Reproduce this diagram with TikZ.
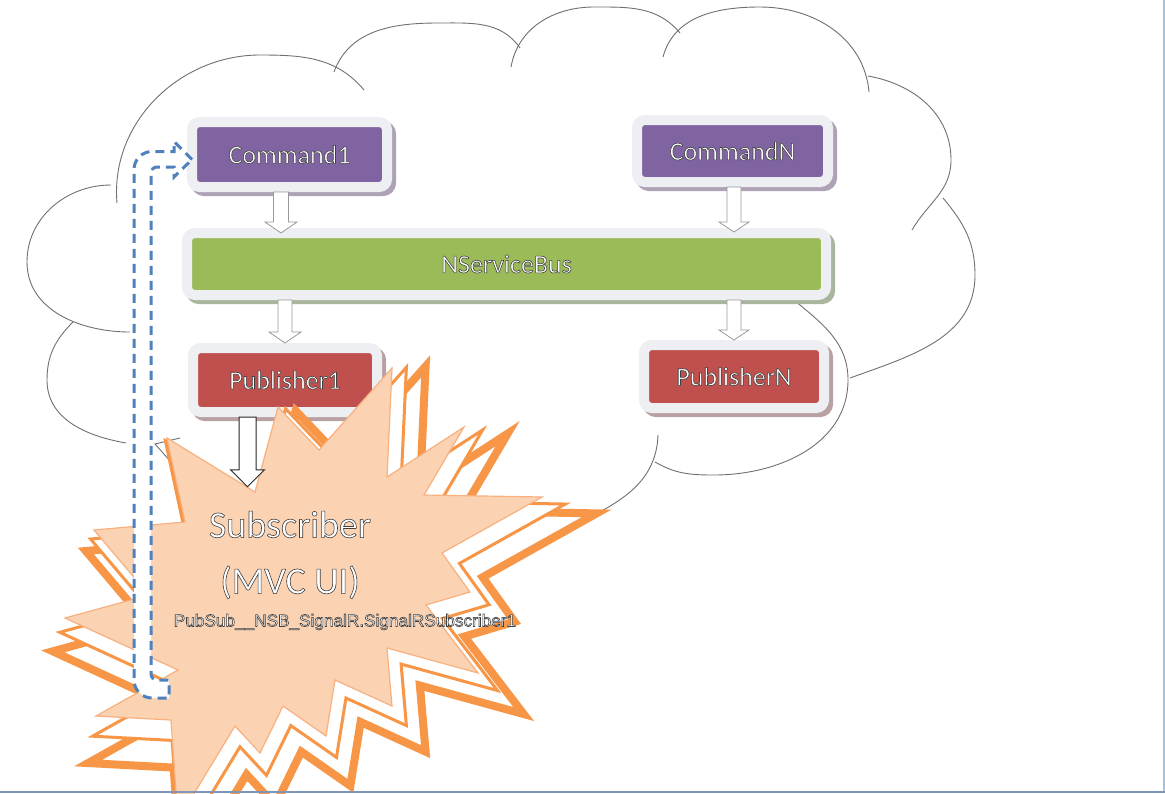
\documentclass[tikz,border=0pt]{standalone}
\usepackage{fontspec}
\setmainfont{Carlito}
\newfontfamily\labelfont{Liberation Sans}
\usetikzlibrary{calc,shadows}

\definecolor{cmdpurple}{HTML}{8064A2}
\definecolor{busgreen}{HTML}{9BBB59}
\definecolor{pubred}{HTML}{C0504D}
\definecolor{framegray}{HTML}{EDEFF3}
\definecolor{cmdshade}{HTML}{ADA2B6}
\definecolor{busshade}{HTML}{A9B59C}
\definecolor{pubshade}{HTML}{B9A0A2}
\definecolor{burstorange}{HTML}{F79646}
\definecolor{burstpeach}{HTML}{FBD3B3}
\definecolor{burstedge}{HTML}{F8B07E}
\definecolor{loopblue}{HTML}{4F81BD}
\definecolor{cloudline}{HTML}{707070}

% white letters with a thin dark rim
\newcommand{\outl}[1]{\special{pdf:literal direct 0.25 G 0.3 w 2 Tr}#1\special{pdf:literal direct 0 Tr}}

% explosion outline of the subscriber
\newcommand{\burstpath}{(167,-438) -- (255,-492) -- (278,-407) -- (319,-450) -- (392,-368) -- (387,-477) -- (464,-427) -- (424,-495) -- (542,-497) -- (442,-553) -- (470,-592) -- (426,-605) -- (478,-673) -- (387,-648) -- (392,-706) -- (335,-680) -- (326,-736) -- (283,-706) -- (260,-753) -- (235,-726) -- (178,-820) -- (171,-720) -- (96,-716) -- (178,-670) -- (65,-618) -- (149,-595) -- (94,-530) -- (185,-522) -- cycle}

\tikzset{
  box/.style 2 args={rectangle, rounded corners=4pt, fill=#1, draw=framegray, line width=5pt,
    inner sep=0pt, text=white, font=\fontsize{13}{15}\selectfont,
    drop shadow={shadow xshift=2pt, shadow yshift=-2pt, fill=#2, draw=#2, line width=5pt, opacity=1}},
  hollow/.style n args={3}{to path={let \p1=(\tikztostart), \p2=(\tikztotarget) in
    (\x1-#1,\y1) -- (\x1-#1,\y2+#3) -- (\x1-#2,\y2+#3) -- (\x1,\y2)
    -- (\x1+#2,\y2+#3) -- (\x1+#1,\y2+#3) -- (\x1+#1,\y1) -- cycle}},
  linkarrow/.style={draw=black!40, fill=white, line width=0.4pt},
  cloudlobe/.style={draw=cloudline, line width=0.45pt},
  burstback/.style={draw=burstorange, fill=white, line width=#1, line join=miter},
  returnarrow/.style={draw=loopblue, fill=white, line width=1.5pt, dash pattern=on 4.5pt off 3pt},
  subtext/.style={text=white, align=center, inner sep=0pt, font=\fontsize{19}{28}\selectfont},
  classtext/.style={text=white, inner sep=0pt, font=\labelfont\fontsize{8.6}{10}\selectfont},
}

\begin{document}
\begin{tikzpicture}[x=0.5pt, y=0.5pt]
  \clip (0,0) rectangle (1165,-793);
  \fill[white] (0,0) rectangle (1165,-793);

  % Cloud
  \draw[cloudlobe] (73,-322) to[out=225,in=90] (47,-380) to[out=-90,in=170] (126,-443);
  \draw[cloudlobe] (111,-185) to[out=180,in=90] (27,-262) to[out=-90,in=180] (130,-332);
  \draw[cloudlobe] (117,-203) to[out=95,in=180] (260,-55) to[out=0,in=130] (364,-90);
  \draw[cloudlobe] (334,-72) to[out=70,in=180] (438,-23) to[out=0,in=125] (520,-48);
  \draw[cloudlobe] (511,-67) to[out=80,in=180] (594,-7) to[out=0,in=130] (680,-33);
  \draw[cloudlobe] (663,-57) to[out=75,in=180] (760,-7) to[out=0,in=95] (869,-92);
  \draw[cloudlobe] (868,-76) to[out=-10,in=90] (951,-160) to[out=-90,in=60] (912,-230);
  \draw[cloudlobe] (943,-198) to[out=-50,in=90] (975,-275) to[out=-90,in=20] (850,-378);
  \draw[cloudlobe] (794,-300) to[out=-40,in=90] (848,-380) to[out=-90,in=0] (714,-475) to[out=180,in=-30] (655,-462);
  \draw[cloudlobe] (658,-435) to[out=-92,in=30] (540,-543);
  \draw[cloudlobe] (180,-438) -- (155,-444) -- (171,-462);

  % Boxes
  \node[box={cmdpurple}{cmdshade}, minimum width=97.5pt, minimum height=32.5pt] (cmd1) at (289.5,-154.5) {\outl{Command1}};
  \node[box={cmdpurple}{cmdshade}, minimum width=95.5pt, minimum height=31pt] (cmdN) at (732.5,-151) {\outl{CommandN}};
  \node[box={busgreen}{busshade}, minimum width=319.5pt, minimum height=31pt] (bus) at (506.5,-264) {\outl{NServiceBus}};
  \node[box={pubred}{pubshade}, minimum width=92pt, minimum height=32pt] (pub1) at (285,-380) {\outl{Publisher1}};
  \node[box={pubred}{pubshade}, minimum width=90pt, minimum height=31.5pt] (pubN) at (734,-376.5) {\outl{PublisherN}};

  % Flow arrows
  \draw[linkarrow] ([xshift=-4.25pt]cmd1.south) to[hollow={3.75pt}{8pt}{5.5pt}] ([yshift=-2.5pt]bus.north);
  \draw[linkarrow] ([xshift=0.75pt]cmdN.south) to[hollow={3.5pt}{7.5pt}{5pt}] ([yshift=-2pt]bus.north);
  \draw[linkarrow] (pub1.north |- bus.south) to[hollow={3.5pt}{8pt}{5.5pt}] (pub1.north);
  \draw[linkarrow] (pubN.north |- bus.south) to[hollow={3.5pt}{7.5pt}{5pt}] (pubN.north);

  % Subscriber burst
  \draw[burstback=4pt, shift={(152,-380)}, scale=1.14, shift={(-152,380)}] \burstpath;
  \draw[burstback=1.5pt, shift={(152,-380)}, scale=1.06, shift={(-152,380)}] \burstpath;
  \draw[draw=burstedge, fill=burstpeach, line width=0.6pt, line join=miter] \burstpath;

  \node[subtext] (sub) at (290,-555) {\outl{Subscriber}\\\outl{(MVC UI)}};
  \node[classtext] (subname) at (345,-622) {\outl{PubSub\_\_NSB\_SignalR.SignalRSubscriber1}};

  \draw[linkarrow, draw=black!85, line width=0.5pt] ([xshift=-18.75pt]pub1.south) to[hollow={4.25pt}{8.5pt}{8.5pt}] ([yshift=12pt]sub.north);

  % Return path to Command1
  \draw[returnarrow] ([xshift=2.5pt,yshift=-2.5pt]cmd1.west) -- ++(-18,18) -- ++(0,-10) -- ++(-22,0)
    arc[start angle=90, end angle=180, radius=9pt] -- (134,-680)
    arc[start angle=180, end angle=270, radius=9pt] -- (169,-698) -- (169,-680) -- (157,-680)
    arc[start angle=270, end angle=180, radius=3pt] -- (151,-173)
    arc[start angle=180, end angle=90, radius=3pt] -- (174,-167) -- (174,-177) -- cycle;

  % Window edges
  \draw[draw={rgb,255:red,157;green,195;blue,230}, line width=1pt] (1164,0) -- (1164,-793);
  \draw[draw={rgb,255:red,128;green,150;blue,184}, line width=1pt] (0,-791.5) -- (1165,-791.5);
\end{tikzpicture}
\end{document}
